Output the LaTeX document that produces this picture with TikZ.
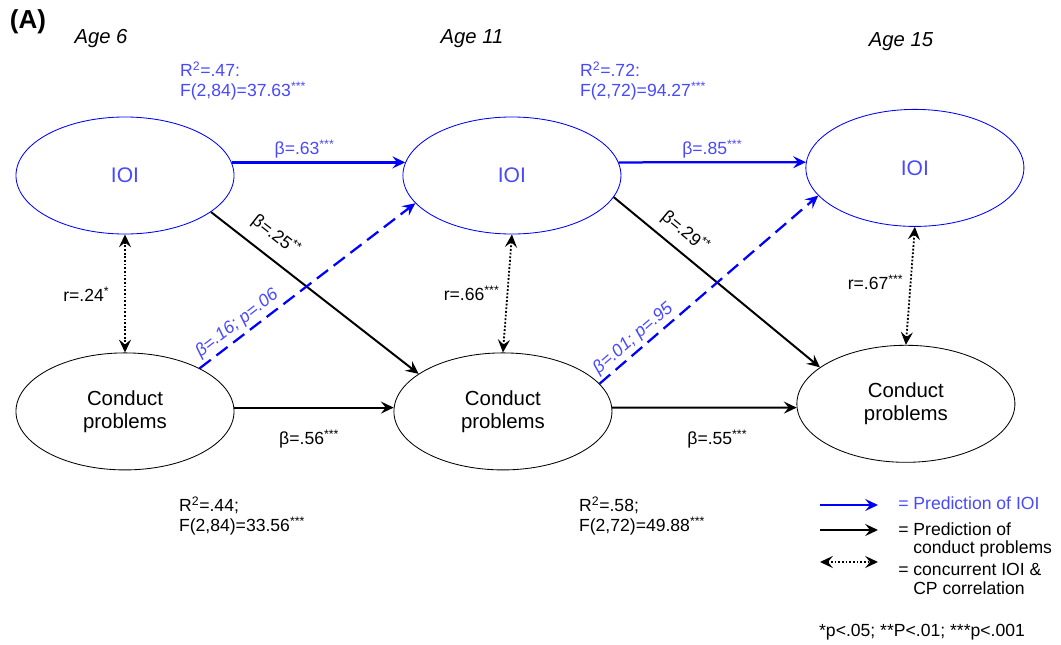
\documentclass[tikz,border=0pt]{standalone}
\usepackage{fontspec}
\setmainfont{Liberation Sans}
\usetikzlibrary{positioning,shapes.geometric,arrows.meta}
\definecolor{ioiblue}{RGB}{0,0,255}
\definecolor{ioitext}{RGB}{72,72,255}

\begin{document}
\begin{tikzpicture}[x=0.025cm, y=-0.025cm,
        ioinode/.style={ellipse, draw=ioiblue, line width=0.6pt, text=ioitext, inner sep=0pt, minimum width=5.45cm, minimum height=2.925cm, font=\fontsize{15}{16.4}\selectfont},
        cpnode/.style={ellipse, draw=black, line width=0.6pt, align=center, inner sep=0pt, minimum width=5.45cm, minimum height=2.925cm, font=\fontsize{14.5}{16.4}\selectfont},
        tip/.style={-{Stealth[length=3.2mm, width=3mm, inset=1.2mm]}},
        ioiarrow/.style={tip, draw=ioiblue, line width=1.6pt},
        ioidashed/.style={ioiarrow, dash pattern=on 10pt off 5pt},
        cparrow/.style={tip, draw=black, line width=1.4pt},
        corrarrow/.style={{Stealth[length=3.2mm, width=3mm, inset=1.2mm]}-{Stealth[length=3.2mm, width=3mm, inset=1.2mm]}, draw=black, line width=1.3pt, dash pattern=on 1.3pt off 1.3pt},
        smalltext/.style={inner sep=2pt, font=\fontsize{12.5}{13.9}\selectfont},
        ioilabel/.style={smalltext, text=ioitext},
        agelabel/.style={font=\fontsize{14.4}{16}\selectfont\itshape},
]
        \useasboundingbox (0,0) rectangle (1061,645);

        \node[font=\fontsize{18.5}{20}\selectfont\bfseries] (panel) at (28,22) {(A)};
        \node[agelabel] (agesix) at (101,39) {Age 6};
        \node[agelabel] (ageeleven) at (472,39) {Age 11};
        \node[agelabel] (agefifteen) at (901,42) {Age 15};

        \node[ioinode] (ioisix) at (125,175.5) {IOI};
        \node[ioinode] (ioieleven) [right=4.2cm of ioisix] {IOI};
        \node[ioinode] (ioififteen) [right=4.6cm of ioieleven, yshift=0.19cm] {IOI};
        \node[cpnode] (cpsix) [below=2.95cm of ioisix] {Conduct\\problems};
        \node[cpnode] (cpeleven) [right=3.975cm of cpsix] {Conduct\\problems};
        \node[cpnode] (cpfifteen) [right=4.6cm of cpeleven, yshift=0.19cm] {Conduct\\problems};

        \node[ioilabel, align=left, anchor=west] (fitioisix) at (177,81) {R\textsuperscript{2}=.47:\\F(2,84)=37.63\textsuperscript{***}};
        \node[ioilabel, align=left, anchor=west] (fitioieleven) at (577,81) {R\textsuperscript{2}=.72:\\F(2,72)=94.27\textsuperscript{***}};
        \node[smalltext, align=left, anchor=west] (fitcpsix) at (176,516) {R\textsuperscript{2}=.44;\\F(2,84)=33.56\textsuperscript{***}};
        \node[smalltext, align=left, anchor=west] (fitcpeleven) at (576,516) {R\textsuperscript{2}=.58;\\F(2,72)=49.88\textsuperscript{***}};

        % stability paths
        \draw[ioiarrow] (ioisix.7) -- node[ioilabel, above, pos=0.42] (bioisix) {β=.63\textsuperscript{***}} (ioieleven.173);
        \draw[ioiarrow] (ioieleven.7) -- node[ioilabel, above, pos=0.5] (bioieleven) {β=.85\textsuperscript{***}} (ioififteen.177);
        \draw[cparrow] (cpsix.2) -- node[smalltext, below=13pt, pos=0.47] (bcpsix) {β=.56\textsuperscript{***}} (cpeleven.178);
        \draw[cparrow] (cpeleven.2) -- node[smalltext, below=13pt, pos=0.57] (bcpeleven) {β=.55\textsuperscript{***}} (cpfifteen.182);

        % cross-lagged paths
        \draw[cparrow] (ioisix.-23) -- node[smalltext, sloped, above=6pt, pos=0.25] (bcrosssix) {β=.25\textsuperscript{**}} (cpeleven.156);
        \draw[cparrow] (ioieleven.-12) -- node[smalltext, sloped, above=4pt, pos=0.29] (bcrosseleven) {β=.29\textsuperscript{**}} (cpfifteen.157);
        \draw[ioidashed] (cpsix.30) -- node[ioilabel, sloped, above=0.5pt, pos=0.21, font=\fontsize{12.5}{13.9}\selectfont\itshape] (bbacksix) {β=.16; p=.06} (ioieleven.196);
        \draw[ioidashed] (cpeleven.16) -- node[ioilabel, sloped, above=0pt, pos=0.19, font=\fontsize{12.5}{13.9}\selectfont\itshape] (bbackeleven) {β=.01; p=.95} (ioififteen.196);

        % concurrent correlations
        \draw[corrarrow] (ioisix.south) -- node[smalltext, left=8.5pt, pos=0.51] (rsix) {r=.24\textsuperscript{*}} (cpsix.north);
        \draw[corrarrow] (ioieleven.south) -- node[smalltext, left=3pt, pos=0.5] (releven) {r=.66\textsuperscript{***}} (cpeleven.north);
        \draw[corrarrow] (ioififteen.south) -- node[smalltext, left=2.5pt, pos=0.47] (rfifteen) {r=.67\textsuperscript{***}} (cpfifteen.north);

        % legend
        \coordinate (legioia) at (820,505);
        \coordinate (legioib) at (878,505);
        \coordinate (legcpa) at (820,530);
        \coordinate (legcpb) at (878,530);
        \coordinate (legcorra) at (820,562);
        \coordinate (legcorrb) at (878,562);
        \draw[ioiarrow] (legioia) -- (legioib);
        \draw[cparrow] (legcpa) -- (legcpb);
        \draw[corrarrow] (legcorra) -- (legcorrb);
        \node[ioilabel, inner sep=0pt, anchor=west] (legioitext) at (898,503) {= Prediction of IOI};
        \node[smalltext, inner sep=0pt, anchor=west] (legcptext) at (898,529) {= Prediction of};
        \node[smalltext, inner sep=0pt, anchor=west] (legcptextb) at (913,549) {conduct problems};
        \node[smalltext, inner sep=0pt, anchor=west] (legcorrtext) at (898,569) {= concurrent IOI \&};
        \node[smalltext, inner sep=0pt, anchor=west] (legcorrtextb) at (913,588) {CP correlation};

        \node[smalltext] (signif) at (922,632) {*p<.05; **P<.01; ***p<.001};
\end{tikzpicture}
\end{document}
